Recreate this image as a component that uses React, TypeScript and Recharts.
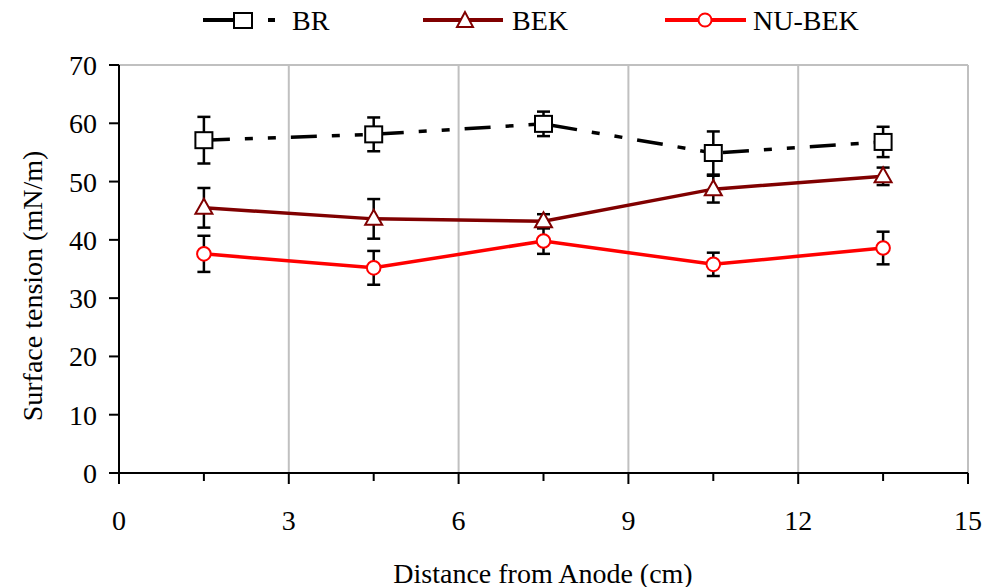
import { ErrorBar, Line, LineChart, ReferenceLine, XAxis, YAxis } from 'recharts';

const distances = [1.5, 4.5, 7.5, 10.5, 13.5];

const brValues = [57.1, 58.1, 59.9, 54.9, 56.8];
const brErrors = [4.0, 2.9, 2.1, 3.7, 2.6];

const bekValues = [45.5, 43.6, 43.2, 48.7, 50.9];
const bekErrors = [3.4, 3.4, 1.2, 2.3, 1.5];

const nuBekValues = [37.6, 35.2, 39.8, 35.8, 38.6];
const nuBekErrors = [3.1, 2.9, 2.2, 2.0, 2.8];

const xMajorTicks = [0, 3, 6, 9, 12, 15];
const xMinorTicks = [1.5, 4.5, 7.5, 10.5, 13.5];
const yTicks = [0, 10, 20, 30, 40, 50, 60, 70];

const FONT = '"Liberation Serif", "Times New Roman", serif';
const BEK_COLOR = '#800000';
const NU_COLOR = '#ff0000';
const GRID = '#c0c0c0';

const data = distances.map((d, i) => ({
  d,
  br: brValues[i],
  brErr: brErrors[i],
  bek: bekValues[i],
  bekErr: bekErrors[i],
  nu: nuBekValues[i],
  nuErr: nuBekErrors[i],
}));

const allXTicks = [...xMajorTicks, ...xMinorTicks].sort((a, b) => a - b);

function XTick({ x, y, payload }: any) {
  const major = xMajorTicks.includes(payload.value);
  return (
    <g>
      <line x1={x} x2={x} y1={y} y2={y + (major ? 11 : 8)} stroke="#000" strokeWidth={2} />
      {major && (
        <text x={x} y={y + 47} textAnchor="middle" dominantBaseline="central" fontFamily={FONT} fontSize={28} fill="#000">
          {payload.value}
        </text>
      )}
    </g>
  );
}

function SquareDot({ cx, cy, index }: any) {
  return <rect key={`sq-${index}`} x={cx - 8.5} y={cy - 8} width={17} height={16} fill="#fff" stroke="#000" strokeWidth={2} />;
}

function TriangleDot({ cx, cy, index }: any) {
  return (
    <polygon
      key={`tr-${index}`}
      points={`${cx},${cy - 9} ${cx - 8.5},${cy + 6} ${cx + 8.5},${cy + 6}`}
      fill="#fff"
      stroke={BEK_COLOR}
      strokeWidth={2}
    />
  );
}

function CircleDot({ cx, cy, index }: any) {
  return <circle key={`ci-${index}`} cx={cx} cy={cy} r={6.8} fill="#fff" stroke={NU_COLOR} strokeWidth={2} />;
}

function LegendBar() {
  return (
    <svg width={985} height={44} style={{ position: 'absolute', left: 0, top: 0, pointerEvents: 'none' }}>
      <g fontFamily={FONT} fontSize={28} fill="#000">
        <line x1={203} x2={234} y1={20} y2={20} stroke="#000" strokeWidth={4} />
        <rect x={234} y={13} width={18} height={15} fill="#fff" stroke="#000" strokeWidth={2} />
        <line x1={268} x2={275} y1={20} y2={20} stroke="#000" strokeWidth={4} />
        <text x={292} y={30}>BR</text>

        <line x1={423} x2={503} y1={20} y2={20} stroke={BEK_COLOR} strokeWidth={4} />
        <polygon points="465,12 457,27 473,27" fill="#fff" stroke={BEK_COLOR} strokeWidth={2} />
        <text x={512} y={30}>BEK</text>

        <line x1={665} x2={746} y1={20} y2={20} stroke={NU_COLOR} strokeWidth={4} />
        <circle cx={705} cy={20} r={6.5} fill="#fff" stroke={NU_COLOR} strokeWidth={2} />
        <text x={753} y={30}>NU-BEK</text>
      </g>
    </svg>
  );
}

// error bars sit on invisible carrier lines drawn first, so the markers cover them
const errorSeries = [
  { key: 'br', err: 'brErr' },
  { key: 'bek', err: 'bekErr' },
  { key: 'nu', err: 'nuErr' },
];

export default function App() {
  return (
    <div style={{ position: 'absolute', left: 0, top: 0, width: 985, height: 587, background: '#fff' }}>
      <LineChart width={985} height={587} data={data} margin={{ top: 65, right: 17, bottom: 0, left: 0 }}>
        {xMajorTicks
          .filter((t) => t > 0)
          .map((t) => (
            <ReferenceLine key={`gx-${t}`} x={t} stroke={GRID} strokeWidth={2} />
          ))}
        <ReferenceLine y={70} stroke={GRID} strokeWidth={2} />
        <XAxis
          dataKey="d"
          type="number"
          domain={[0, 15]}
          ticks={allXTicks}
          interval={0}
          height={114}
          tickSize={0}
          tickMargin={0}
          tickLine={false}
          tick={<XTick />}
          axisLine={{ stroke: '#000', strokeWidth: 2 }}
          label={{
            content: () => (
              <text x={543} y={573} textAnchor="middle" dominantBaseline="central" fontFamily={FONT} fontSize={28} fill="#000">
                Distance from Anode (cm)
              </text>
            ),
          }}
        />
        <YAxis
          type="number"
          domain={[0, 70]}
          ticks={yTicks}
          interval={0}
          width={119}
          tickSize={10}
          tickMargin={12}
          tick={{ fill: '#000', fontSize: 28, fontFamily: FONT }}
          tickLine={{ stroke: '#000', strokeWidth: 2 }}
          axisLine={{ stroke: '#000', strokeWidth: 2 }}
          label={{
            content: () => (
              <text
                x={32}
                y={286}
                transform="rotate(-90 32 286)"
                textAnchor="middle"
                dominantBaseline="central"
                fontFamily={FONT}
                fontSize={28}
                fill="#000"
              >
                Surface tension (mN/m)
              </text>
            ),
          }}
        />
        {errorSeries.map((s) => (
          <Line
            key={`err-${s.key}`}
            dataKey={s.key}
            type="linear"
            stroke="none"
            dot={false}
            activeDot={false}
            legendType="none"
            isAnimationActive={false}
          >
            <ErrorBar dataKey={s.err} direction="y" width={6.5} stroke="#000" strokeWidth={2.5} zIndex={350} />
          </Line>
        ))}
        <Line
          dataKey="br"
          type="linear"
          stroke="#000"
          strokeWidth={3.5}
          strokeDasharray="26 15 8 15 8 15"
          dot={SquareDot}
          activeDot={false}
          isAnimationActive={false}
        />
        <Line
          dataKey="bek"
          type="linear"
          stroke={BEK_COLOR}
          strokeWidth={3.5}
          dot={TriangleDot}
          activeDot={false}
          isAnimationActive={false}
        />
        <Line
          dataKey="nu"
          type="linear"
          stroke={NU_COLOR}
          strokeWidth={3.5}
          dot={CircleDot}
          activeDot={false}
          isAnimationActive={false}
        />
      </LineChart>
      <LegendBar />
    </div>
  );
}
